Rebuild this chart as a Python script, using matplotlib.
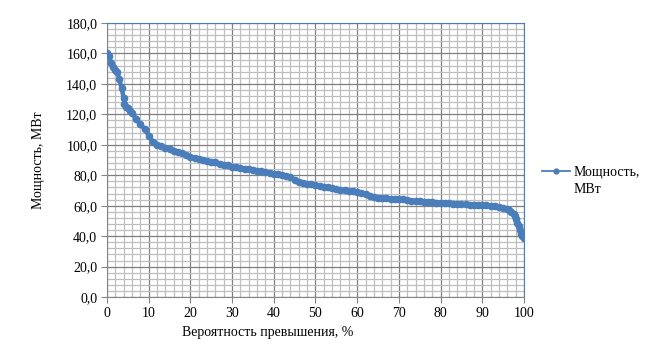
import matplotlib.pyplot as plt
from matplotlib.ticker import MultipleLocator, FuncFormatter

# данные
prob = [0, 0.5, 1, 1.5, 2, 2.5, 3, 3.5, 4, 4.2, 4.6, 5, 5.5, 6, 7, 8, 9, 10,
        11, 12, 13, 14, 15, 16, 17, 18, 19, 20, 21, 22, 23, 24, 25, 26, 27,
        28, 29, 30, 31, 32, 33, 34, 35, 36, 37, 38, 39, 40, 41, 42, 43, 44,
        45, 46, 47, 48, 49, 50, 51, 52, 53, 54, 55, 56, 57, 58, 59, 60, 61,
        62, 63, 64, 65, 66, 67, 68, 69, 70, 71, 72, 73, 74, 75, 76, 77, 78,
        79, 80, 81, 82, 83, 84, 85, 86, 87, 88, 89, 90, 91, 92, 93, 94, 95,
        96, 96.5, 97, 97.5, 97.8, 98.1, 98.4, 98.7, 99, 99.3, 99.6, 100]
power = [160, 158, 154, 151, 149, 147.5, 143, 137, 131, 127, 125, 124, 122,
         121, 117, 113.5, 110.5, 106, 102, 100, 99, 98, 97, 96, 95.5, 94.5,
         93, 92, 91.5, 91, 90, 89.5, 89, 88.5, 87.5, 87, 86.5, 85.7, 85.2,
         84.8, 84.3, 83.8, 83.3, 83, 82.5, 82, 81.5, 81, 80.7, 80.2, 79.8, 79,
         77, 75.8, 75.2, 74.5, 74, 73.4, 73, 72.5, 72, 71.4, 71, 70.5, 70.2,
         69.8, 69.4, 69, 68.5, 68, 66.5, 65.8, 65.3, 65, 64.8, 64.6, 64.4,
         64.3, 64.1, 63.8, 63.4, 63.1, 62.9, 62.7, 62.5, 62.3, 62.1, 61.9,
         61.7, 61.5, 61.4, 61.2, 61.1, 60.9, 60.8, 60.7, 60.6, 60.5, 60.4, 60,
         59.6, 59.2, 58.6, 57.6, 57, 56, 54.5, 53, 51, 48.5, 46.5, 44, 41.5,
         40, 38.5]

plt.rcParams['font.family'] = ['Liberation Serif', 'DejaVu Serif']
plt.rcParams['font.size'] = 10

blue = '#4a7ebb'

fig = plt.figure(figsize=(6.46, 3.52), dpi=100)
ax = fig.add_axes([0.1656, 0.156, 0.6455, 0.7787])

ax.plot(prob, power, color=blue, lw=3.2, marker='o', ms=4.5,
        mec=blue, mfc=blue, label='Мощность,', zorder=3)

ax.set_xlim(0, 100)
ax.set_ylim(0, 180)
ax.xaxis.set_major_locator(MultipleLocator(10))
ax.xaxis.set_minor_locator(MultipleLocator(2))
ax.yaxis.set_major_locator(MultipleLocator(20))
ax.yaxis.set_minor_locator(MultipleLocator(4))
ax.yaxis.set_major_formatter(FuncFormatter(lambda v, p: f'{v:.1f}'.replace('.', ',')))

ax.grid(which='major', color='#7f7f7f', lw=0.9)
ax.grid(which='minor', color='#bfbfbf', lw=0.9)
ax.set_axisbelow(True)

ax.tick_params(which='major', length=4, color='#868686', labelsize=10, pad=3)
ax.tick_params(which='minor', length=0)
for s in ['left', 'bottom']:
    ax.spines[s].set_color('#868686')
for s in ['top', 'right']:
    ax.spines[s].set_color(blue)

ax.set_xlabel('Вероятность превышения, %')
ax.xaxis.set_label_coords(0.386, -0.105)
ax.set_ylabel('Мощность, МВт')
ax.yaxis.set_label_coords(-0.148, 0.5)

# легенда: маркер на уровне первой строки, как в Excel
leg = ax.legend(loc='upper left', bbox_to_anchor=(1.03, 0.50), frameon=False,
                handlelength=2.0, handletextpad=0.3, fontsize=10,
                borderaxespad=0.0)
h = leg.legend_handles[0]
h.set_linewidth(1.3)
h.set_markersize(3.5)
fig.canvas.draw()
bb = leg.get_texts()[0].get_window_extent()
x0, y0 = fig.transFigure.inverted().transform((bb.x0, bb.y0))
fig.text(x0, y0 - 17 / 352, 'МВт', fontsize=10, ha='left', va='bottom')

fig.savefig('out.png', dpi=100)
